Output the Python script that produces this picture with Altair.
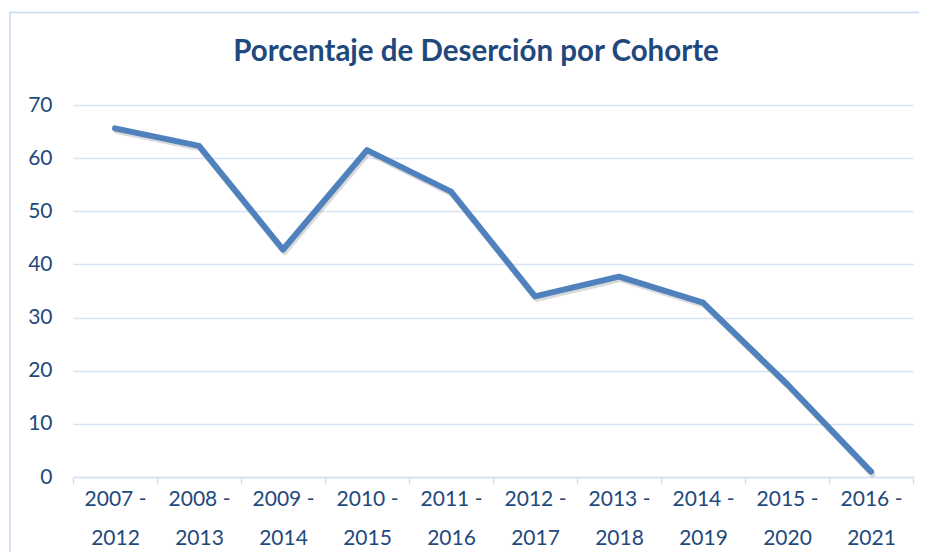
import altair as alt
import pandas as pd

cohortes = ["2007 - 2012", "2008 - 2013", "2009 - 2014", "2010 - 2015", "2011 - 2016",
            "2012 - 2017", "2013 - 2018", "2014 - 2019", "2015 - 2020", "2016 - 2021"]
desercion = [65.6, 62.3, 42.8, 61.5, 53.7, 34.0, 37.7, 32.8, 17.5, 1.0]

df = pd.DataFrame({"cohorte": cohortes, "desercion": desercion})

FONT = "Lato"
TEXT_COLOR = "#1F497D"
GRID_COLOR = "#D5E2F3"
LINE_COLOR = "#4F81BD"

x = alt.X("cohorte:N", sort=cohortes, title=None,
          scale=alt.Scale(paddingInner=0, paddingOuter=0),
          axis=alt.Axis(labelAngle=0, tickBand="extent", tickSize=7, tickColor=GRID_COLOR,
                        tickWidth=1.5, domainColor=GRID_COLOR, domainWidth=1.5,
                        labelPadding=4, labelFontSize=21, labelFont=FONT, labelColor=TEXT_COLOR,
                        labelLineHeight=39,
                        labelExpr="isString(datum.value) ? split(replace(datum.value, ' - ', ' -|'), '|') : ''"))
y = alt.Y("desercion:Q", title=None,
          scale=alt.Scale(domain=[0, 70], nice=False),
          axis=alt.Axis(values=[0, 10, 20, 30, 40, 50, 60, 70], ticks=False, domain=False,
                        gridColor=GRID_COLOR, gridWidth=1.5, labelPadding=21,
                        labelFontSize=21, labelFont=FONT, labelColor=TEXT_COLOR))

frame = alt.Chart(alt.Data(values=[{"a": 1}])).mark_rect(
    fill="white", fillOpacity=0, stroke="#C6D9F1", strokeWidth=1.5
).encode(x=alt.value(-63), x2=alt.value(900), y=alt.value(-92.5), y2=alt.value(600))

shadow = alt.Chart(df).mark_line(color="#555555", opacity=0.22, strokeWidth=6,
                                 strokeCap="round", strokeJoin="round",
                                 xOffset=1.5, yOffset=2.5).encode(x=x, y=y)
line = alt.Chart(df).mark_line(color=LINE_COLOR, strokeWidth=6, strokeCap="round",
                               strokeJoin="round").encode(x=x, y=y)

chart = alt.layer(frame, shadow, line).properties(
    width=840, height=372,
    autosize=alt.AutoSizeParams(type="none"),
    padding={"left": 65, "top": 97, "right": 6, "bottom": 75},
    title=alt.TitleParams("Porcentaje de Deserción por Cohorte", font=FONT, fontSize=29.5,
                          fontWeight="bold", color=TEXT_COLOR, anchor="middle",
                          frame="group", dx=-17, offset=-56),
).configure_view(stroke=None)

chart.save("out.html", embed_options={"renderer": "svg", "actions": False})
